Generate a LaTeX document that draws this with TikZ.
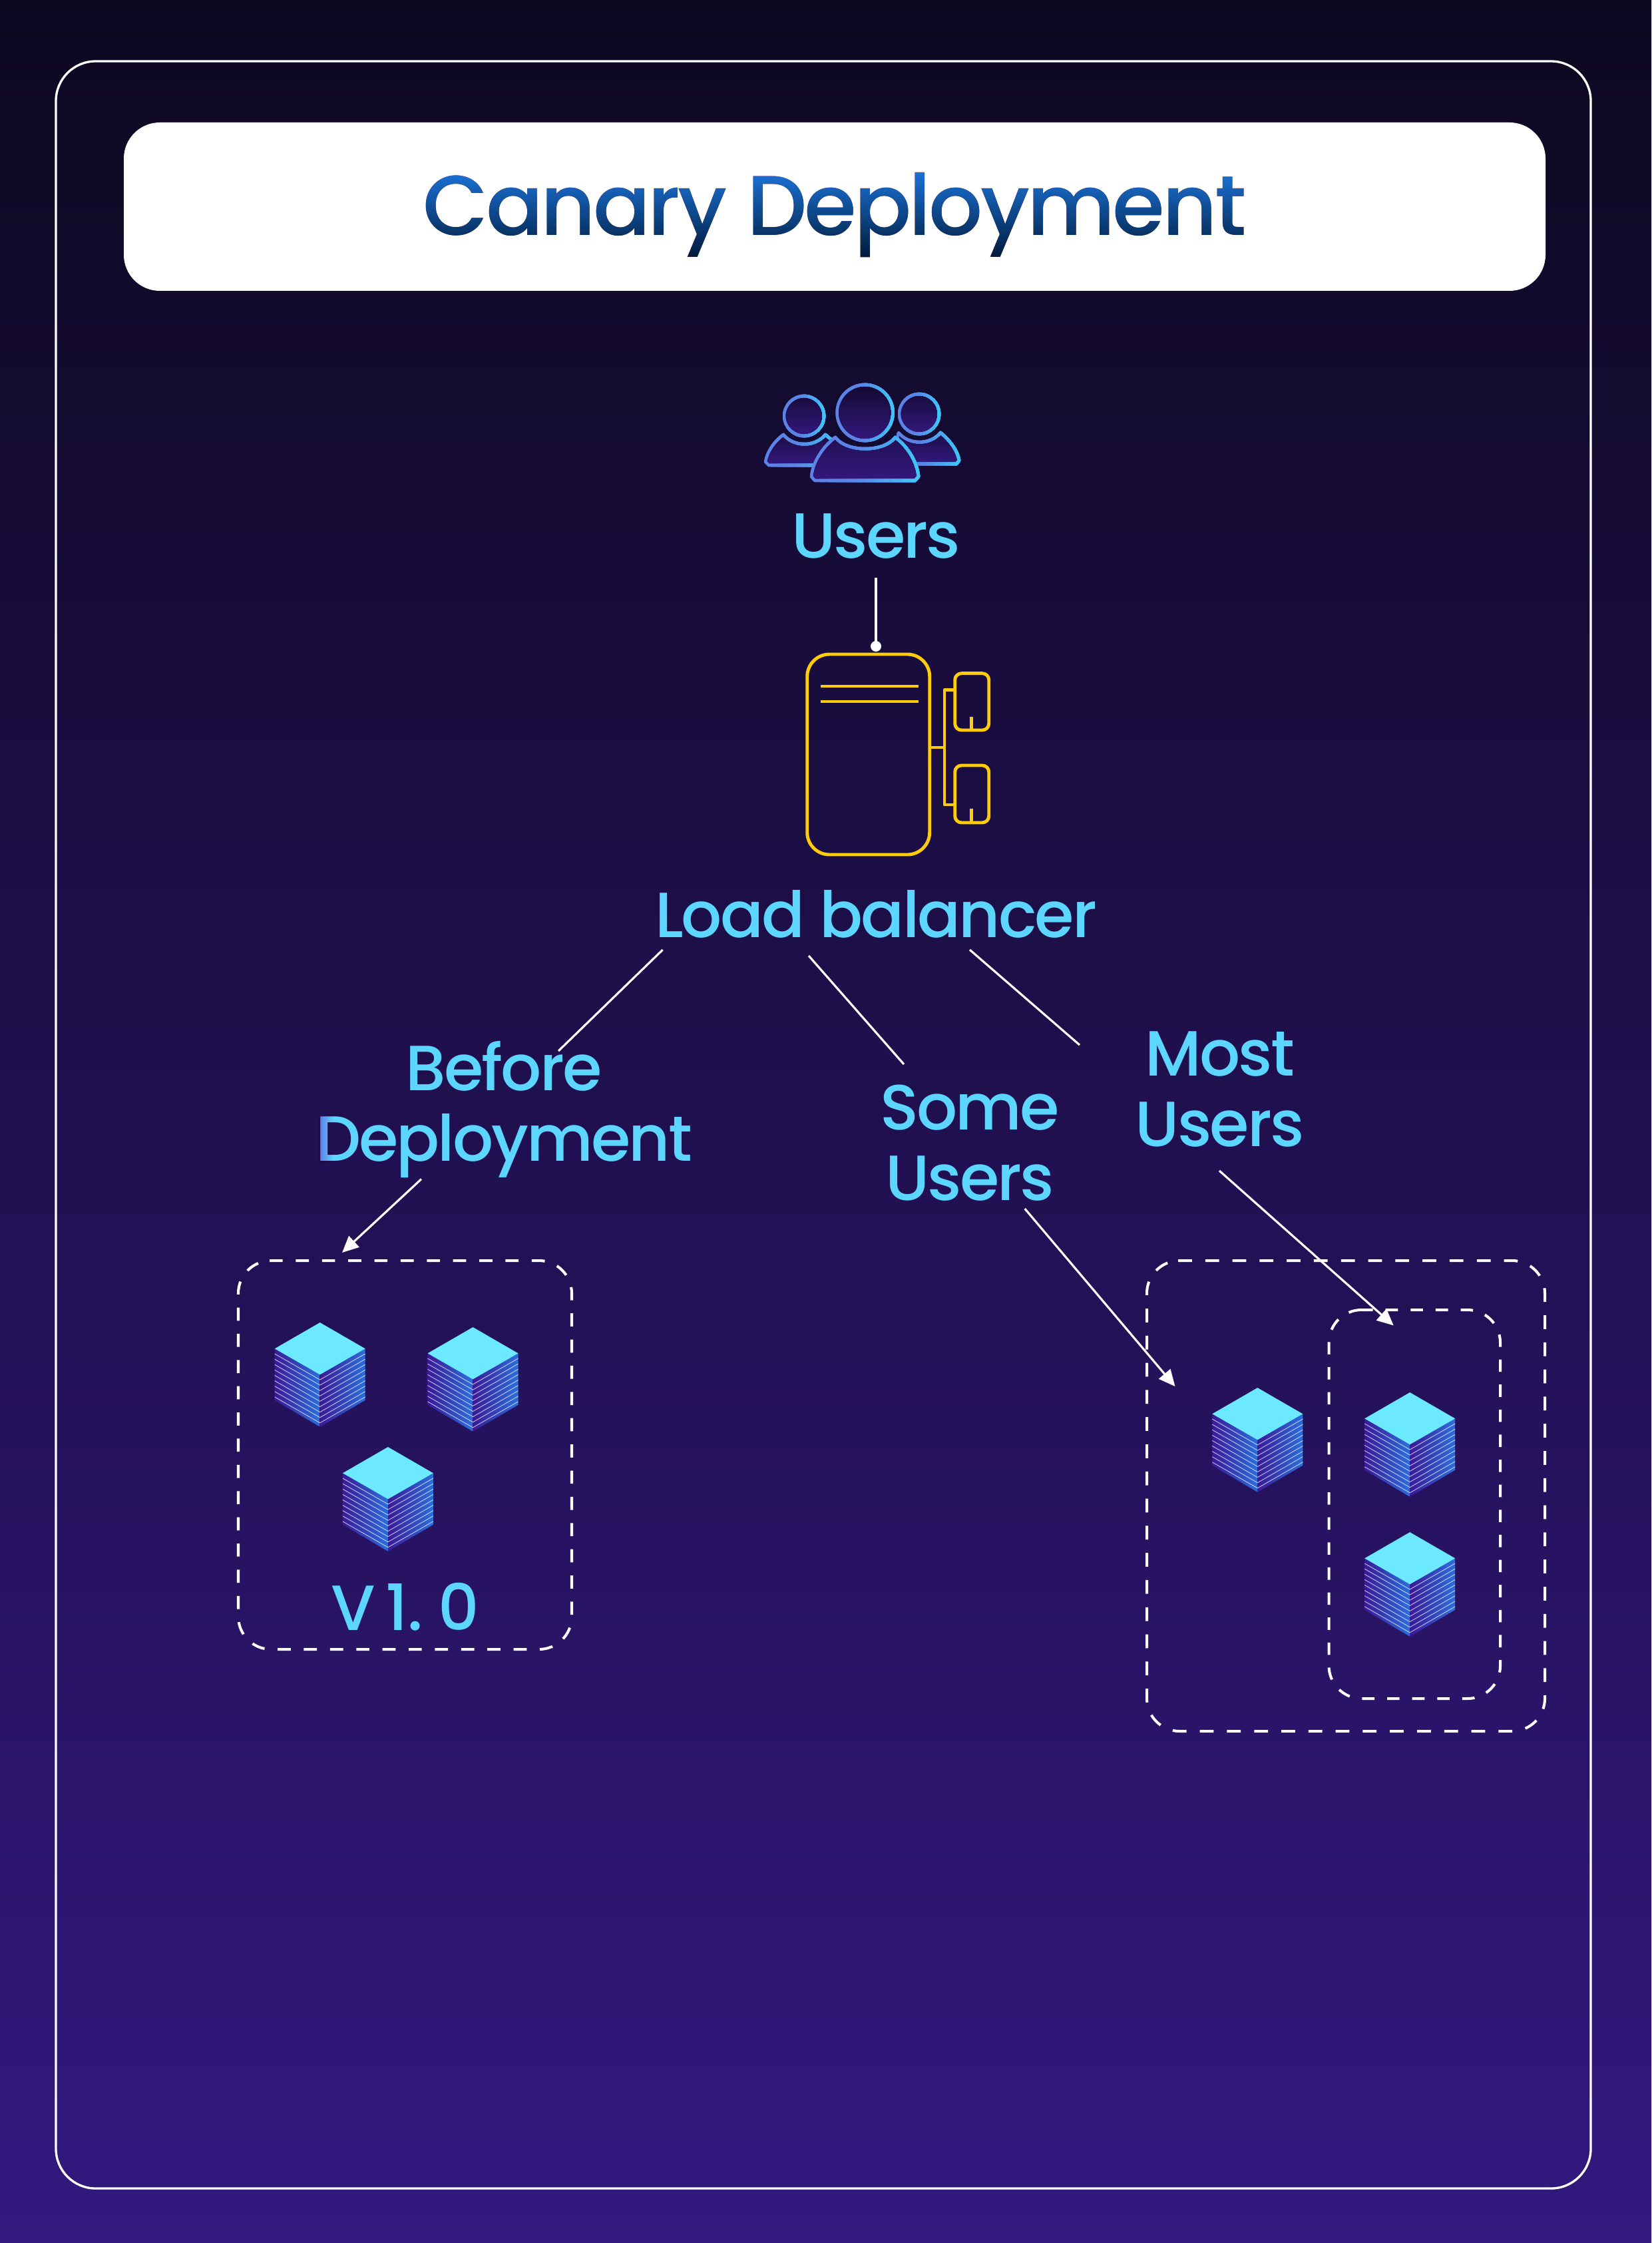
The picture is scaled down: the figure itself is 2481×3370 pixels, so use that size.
\documentclass[tikz,border=0pt]{standalone}
\usepackage{fontspec}
\setmainfont{Poppins Medium}[LetterSpace=-3]
\newfontfamily\verfont{Poppins Medium}[WordSpace=0.6]
\usetikzlibrary{arrows.meta,calc}
\definecolor{bgA}{HTML}{0D0820}
\definecolor{bgB}{HTML}{33187F}
\definecolor{cyanT}{HTML}{5DD6FF}
\definecolor{gold}{HTML}{FFCC0A}
\definecolor{iconA}{HTML}{5B82E6}
\definecolor{iconB}{HTML}{3CC6F7}
\definecolor{cubeTop}{HTML}{6CE8FF}
\definecolor{cubeP}{HTML}{3A1A98}
\definecolor{cubeB}{HTML}{2C6EDC}
\definecolor{titleA}{HTML}{1B72D6}
\definecolor{titleB}{HTML}{001A3A}
\definecolor{dTint}{HTML}{FF8FE8}
\tikzset{
  lbl/.style={inner sep=0pt,text=cyanT,anchor=base,align=center,font=\fontsize{27.3}{29.9}\selectfont},
  link/.style={draw=white,line width=0.9pt},
  arrowlink/.style={link,-{Triangle[length=7pt,width=6.4pt]}},
  dashbox/.style={draw=white,line width=1.15pt,dash pattern=on 5.6pt off 5.6pt},
  goldline/.style={draw=gold,line width=1.4pt,line join=round},
}
\newcommand\gradstroke[3]{%
  \foreach \ii in {0,...,11}{%
    \pgfmathsetmacro\xa{#1+(#2-#1)*\ii/12}%
    \pgfmathsetmacro\pc{max(0,(\ii/11-0.4)/0.6)*100}%
    \begin{scope}
      \clip (\xa,400) rectangle (#2+5,800);
      \draw[line width=1.3pt,line join=round,draw=iconB!\pc!iconA] #3;
    \end{scope}
  }}
\newcommand\servercube[2]{%
  \shade[left color=cubeP,middle color=cubeP!75!cubeB,right color=cubeB] (#1-68,#2+39.3) -- (#1,#2+78.3) -- (#1,#2+156.7) -- (#1-68,#2+116.7) -- cycle;
  \shade[left color=cubeP,middle color=cubeP!75!cubeB,right color=cubeB] (#1,#2+78.3) -- (#1+68,#2+39.3) -- (#1+68,#2+116.7) -- (#1,#2+156.7) -- cycle;
  \fill[cubeTop] (#1,#2) -- (#1+68,#2+39.3) -- (#1,#2+78.3) -- (#1-68,#2+39.3) -- cycle;
  \foreach \k in {0,...,8}{%
    \pgfmathsetmacro\dd{7.7+8.1*\k}%
    \draw[white,opacity=.7,line width=0.26pt] (#1-68,#2+39.3+\dd) -- (#1,#2+78.3+\dd) -- (#1+68,#2+39.3+\dd);
  }}
\begin{document}
\begin{tikzpicture}[x=0.01cm,y=-0.01cm]
\useasboundingbox (0,0) rectangle (2481,3370);
\shade[top color=bgA,bottom color=bgB] (0,0) rectangle (2481,3370);
\draw[white,line width=0.95pt,rounded corners=17pt] (84,92) rectangle (2390,3288);
% title
\fill[white,rounded corners=15.4pt] (186,184) rectangle (2322,437);
\node[inner sep=0pt,anchor=base,text=black,font=\fontsize{36.2}{40}\selectfont] (title) at (1254,354) {Canary Deployment};
\begin{scope}[blend mode=lighten]
\shade[top color=titleA,bottom color=titleB] (600,258) rectangle (1900,388);
\end{scope}
% users icon
\shade[top color=bgA!60!bgB,bottom color=bgB] (1177,653) .. controls (1192,672) and (1225,672) .. (1240,653) -- (1258,668) -- (1258,699) -- (1155,699) -- (1150,694) .. controls (1152,680) and (1162,664) .. (1177,653) -- cycle;
\gradstroke{1148}{1262}{(1177,653) .. controls (1192,672) and (1225,672) .. (1240,653) -- (1258,668) -- (1258,699) -- (1155,699) -- (1150,694) .. controls (1152,680) and (1162,664) .. (1177,653) -- cycle}
\shade[top color=bgA!60!bgB,bottom color=bgB] (1413,650) .. controls (1398,669) and (1365,669) .. (1350,650) -- (1345,670) -- (1345,697) -- (1437,697) -- (1441,692) .. controls (1439,678) and (1428,662) .. (1413,650) -- cycle;
\gradstroke{1345}{1443}{(1413,650) .. controls (1398,669) and (1365,669) .. (1350,650) -- (1345,670) -- (1345,697) -- (1437,697) -- (1441,692) .. controls (1439,678) and (1428,662) .. (1413,650) -- cycle}
\shade[top color=bgA!70!bgB,bottom color=bgB] (1208,625) circle (30);
\gradstroke{1176}{1240}{(1208,625) circle (30)}
\shade[top color=bgA!70!bgB,bottom color=bgB] (1381,622) circle (30);
\gradstroke{1349}{1413}{(1381,622) circle (30)}
\shade[top color=bgA!45!bgB,bottom color=bgB] (1255,657) .. controls (1272,680) and (1328,680) .. (1345,657) .. controls (1365,672) and (1378,695) .. (1380,716) -- (1375,722) -- (1224,722) -- (1219,716) .. controls (1221,695) and (1235,672) .. (1255,657) -- cycle;
\gradstroke{1217}{1382}{(1255,657) .. controls (1272,680) and (1328,680) .. (1345,657) .. controls (1365,672) and (1378,695) .. (1380,716) -- (1375,722) -- (1224,722) -- (1219,716) .. controls (1221,695) and (1235,672) .. (1255,657) -- cycle}
\shade[top color=bgA!85!bgB,bottom color=bgB] (1299.5,620) circle (42);
\gradstroke{1255}{1344}{(1299.5,620) circle (42)}
\node[lbl] (users) at (1316,838) {Users};
% load balancer icon
\draw[goldline,rounded corners=9.5pt] (1212.7,983) rectangle (1396.7,1284);
\draw[goldline] (1232.7,1031) -- (1380,1031);
\draw[goldline] (1232.7,1054) -- (1380,1054);
\draw[goldline,rounded corners=2.8pt] (1434.7,1011.7) rectangle (1485.7,1097);
\draw[goldline,rounded corners=2.8pt] (1434.7,1150) rectangle (1485.7,1236);
\draw[goldline] (1459.3,1076.7) -- (1459.3,1097);
\draw[goldline] (1459.3,1215) -- (1459.3,1236);
\draw[goldline] (1396.7,1123) -- (1419,1123);
\draw[goldline] (1434.7,1036.7) -- (1419,1036.7) -- (1419,1209) -- (1434.7,1209);
\coordinate (lbTop) at (1316,971);
\coordinate (usersOut) at (1316,868);
\draw[link] (usersOut) -- (lbTop);
\fill[white] (lbTop) circle (8);
\node[lbl] (lb) at (1316,1408) {Load balancer};
\node[lbl] (before) at (757,1744) {Before\\Deployment};
\begin{scope}[blend mode=multiply]
\shade[left color=dTint,right color=white] (479,1676) rectangle (501,1746);
\end{scope}
\node[lbl] (some) at (1457,1803) {Some\\Users};
\node[lbl] (most) at (1832.5,1722) {Most\\Users};
% connectors
\coordinate (a1) at (995.6,1427); \coordinate (a2) at (839,1579);
\coordinate (b1) at (1215,1436); \coordinate (b2) at (1358,1599);
\coordinate (c1) at (1457,1427); \coordinate (c2) at (1622,1570);
\draw[link] (a1) -- (a2);
\draw[link] (b1) -- (b2);
\draw[link] (c1) -- (c2);
\coordinate (d1) at (633,1771.5); \coordinate (d2) at (514,1882);
\coordinate (e1) at (1539.7,1816); \coordinate (e2) at (1765.5,2083);
\coordinate (f1) at (1832,1759); \coordinate (f2) at (2093.7,1991.4);
% boxes
\draw[dashbox,rounded corners=14pt] (405,1894) -- (859,1894) -- (859,2478) -- (358,2478) -- (358,1894) -- (405,1894);
\draw[dashbox,rounded corners=14pt,dash pattern=on 5.9pt off 5.7pt] (1770,1894) -- (2321,1894) -- (2321,2601) -- (1723,2601) -- (1723,1894) -- (1770,1894);
\draw[dashbox,rounded corners=14pt,dash pattern=on 5.3pt off 5.4pt] (2044,1968) -- (2254,1968) -- (2254,2552) -- (1996.5,2552) -- (1996.5,1968) -- (2044,1968);
\draw[arrowlink] (d1) -- (d2);
\draw[arrowlink] (e1) -- (e2);
\draw[arrowlink] (f1) -- (f2);
% cubes
\servercube{480.7}{1987}
\servercube{710.5}{1994}
\servercube{582.9}{2174}
\servercube{1889.3}{2085}
\servercube{2118.2}{2092}
\servercube{2118.2}{2302}
\node[lbl,font=\verfont\fontsize{27.3}{29.9}\selectfont] (ver) at (609,2449) {V 1. 0};
\end{tikzpicture}
\end{document}
